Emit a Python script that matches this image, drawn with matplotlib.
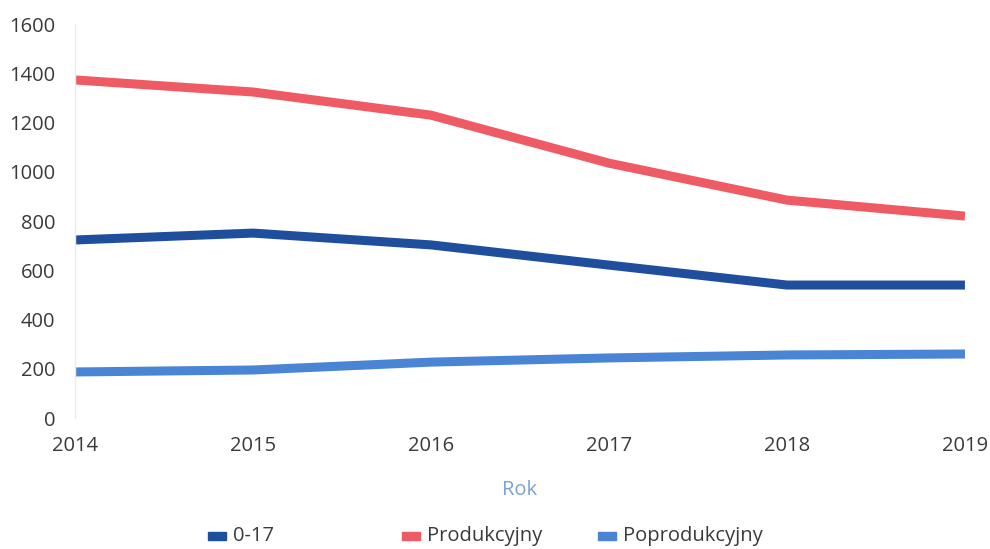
import matplotlib.pyplot as plt
from matplotlib.patches import Rectangle

plt.rcParams['font.family'] = ['Open Sans', 'DejaVu Sans']
plt.rcParams['font.size'] = 14.5

years = [2014, 2015, 2016, 2017, 2018, 2019]
age_0_17 = [723, 751, 703, 621, 540, 540]
produkcyjny = [1373, 1324, 1230, 1035, 885, 820]
poprodukcyjny = [187, 195, 227, 244, 256, 260]

labels = ['0-17', 'Produkcyjny', 'Poprodukcyjny']
colors = ['#1f4f9c', '#ee5b64', '#4a84d4']
text_color = '#3a3a3a'

W, H = 990, 549
fig = plt.figure(figsize=(W / 100, H / 100), dpi=100)
ax = fig.add_axes([0.0758, 0.2386, 0.8989, 0.7176])

for vals, c in zip([age_0_17, produkcyjny, poprodukcyjny], colors):
    ax.plot(years, vals, color=c, lw=6.5, solid_capstyle='butt')

ax.set_xlim(2014, 2019)
ax.set_ylim(0, 1600)
ax.set_yticks(range(0, 1601, 200))
ax.set_xticks(years)
ax.tick_params(length=0, colors=text_color, labelsize=14.5)
ax.tick_params(axis='y', pad=14)
ax.tick_params(axis='x', pad=13)

for s in ['top', 'right', 'bottom']:
    ax.spines[s].set_visible(False)
ax.spines['left'].set_color('#e6ecf2')
ax.spines['left'].set_linewidth(1)

ax.set_xlabel('Rok', color='#7aa2d4', fontsize=14.5, labelpad=17)

# legend with fixed-width columns
legend_x = [208, 402, 598]
legend_y = 536
for x, lab, c in zip(legend_x, labels, colors):
    fig.patches.append(Rectangle((x / W, (H - legend_y - 4) / H), 18 / W, 8 / H,
                                 transform=fig.transFigure, color=c))
    fig.text((x + 25) / W, (H - legend_y) / H, lab, color=text_color,
             fontsize=14.5, va='center', ha='left')

fig.savefig('out.png', dpi=100)
